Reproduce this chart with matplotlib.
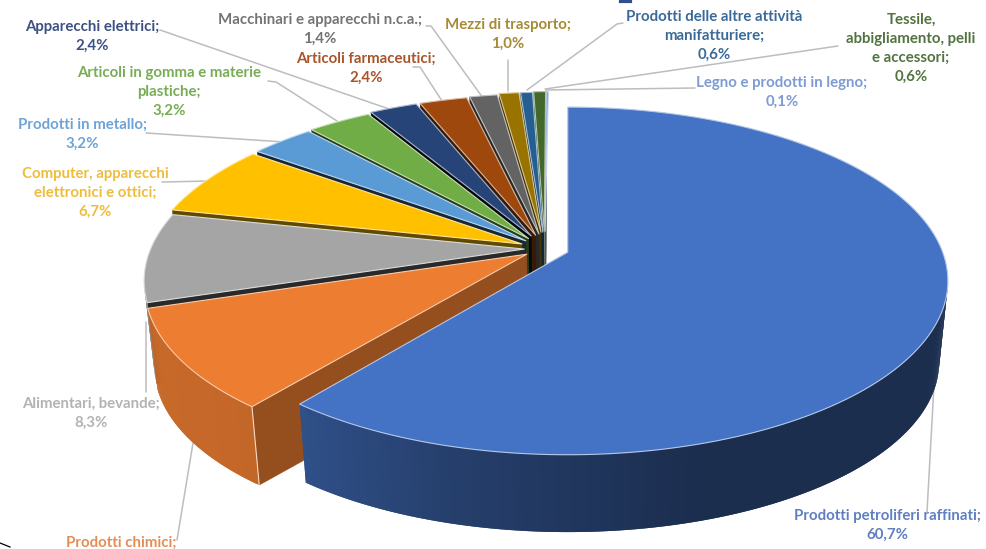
import numpy as np
import matplotlib
matplotlib.use("Agg")
import matplotlib.pyplot as plt
from matplotlib.colors import to_rgb
from matplotlib.patches import Polygon

plt.rcParams['font.family'] = ['Lato', 'DejaVu Sans']

# Shares of each sector, clockwise from twelve o'clock
sectors = ["Prodotti petroliferi raffinati", "Prodotti chimici", "Alimentari, bevande",
           "Computer, apparecchi elettronici e ottici", "Prodotti in metallo",
           "Articoli in gomma e materie plastiche", "Apparecchi elettrici",
           "Articoli farmaceutici", "Macchinari e apparecchi n.c.a.", "Mezzi di trasporto",
           "Prodotti delle altre attività manifatturiere",
           "Tessile, abbigliamento, pelli e accessori", "Legno e prodotti in legno"]
shares = [60.7, 9.4, 8.3, 6.7, 3.2, 3.2, 2.4, 2.4, 1.4, 1.0, 0.6, 0.6, 0.1]
slice_colors = ["#4472c4", "#ed7d31", "#a5a5a5", "#ffc000", "#5b9bd5", "#70ad47", "#264478",
                "#9e480e", "#636363", "#997300", "#255e91", "#43682b", "#698ed0"]
side_factors = [.40, .63, .25, .38, .25, .35, .10, .35, .40, .45, .40, .40, .45]
explosions = [.065, .058, .055, .068, .070, .075, .085, .085, .090, .100, .100, .105, .105]
label_colors = ["#5f7fc2", "#e58d56", "#b3b3b3", "#eebd3f", "#6ea3d8", "#78ad55", "#3c5183",
                "#a9552a", "#747474", "#a68a35", "#3b6a98", "#52733f", "#7f9bd2"]

# Perspective model of the pie disc, in pixel units
CX, CY, A, B, K = 568.0, 252.0, 374.8, 169.0, 0.165
WALL, SHRINK = 82.0, 0.023
HUB = np.array([-0.062, 0.020])


def project(u, v, depth=0.0):
    w = 1 + K * v
    s = 1 - SHRINK * depth
    return CX + s * A * u / w, CY + WALL * depth - s * B * v / w


def direction(theta):
    return np.array([np.sin(theta), np.cos(theta)])


def shade(color, factor):
    return tuple(np.array(to_rgb(color)) * factor)


def tint(color, amount):
    c = np.array(to_rgb(color))
    return tuple(c + (1 - c) * amount)


fig = plt.figure(figsize=(9.87, 5.49), dpi=100)
ax = fig.add_axes([0, 0, 1, 1])
ax.set_xlim(0, 987)
ax.set_ylim(549, 0)
ax.axis("off")

edges = np.radians(np.concatenate([[0], np.cumsum(shares)]) * 360 / np.sum(shares))
wedges = []
for i, color in enumerate(slice_colors):
    t0, t1 = edges[i], edges[i + 1]
    apex = HUB + explosions[i] * direction((t0 + t1) / 2)
    wedges.append((i, color, t0, t1, apex))

# Far slices first, the large slice last so it sits over the others' side walls
for i, color, t0, t1, apex in list(reversed(wedges[1:])) + wedges[:1]:
    angles = np.linspace(t0, t1, max(6, int(np.degrees(t1 - t0) * 2)))
    ru = apex[0] + np.sin(angles)
    rv = apex[1] + np.cos(angles)

    # Cut face along the slice's leading radius
    if i != 0:
        x0, y0 = project(apex[0], apex[1])
        x1, y1 = project(ru[0], rv[0])
        x2, y2 = project(ru[0], rv[0], 1)
        x3, y3 = project(apex[0], apex[1], 1)
        ax.add_patch(Polygon([(x0, y0), (x1, y1), (x2, y2), (x3, y3)], closed=True,
                             fc=shade(color, side_factors[i]),
                             ec=shade(color, side_factors[i]), lw=0.3, zorder=2))

    # Outer rim, lit from the left and falling into shadow towards the right.
    # Each strip overlaps the next one so no seams show between them.
    for j in range(len(angles) - 1):
        if np.cos(angles[j]) > -K and np.cos(angles[j + 1]) > -K:
            continue
        j2 = min(j + 2, len(angles) - 1)
        xa, ya = project(ru[j], rv[j])
        xb, yb = project(ru[j2], rv[j2])
        xc, yc = project(ru[j2], rv[j2], 1)
        xd, yd = project(ru[j], rv[j], 1)
        f = np.interp((xa + xb) / 2, [150, 262, 305, 450, 700], [.84, .82, .69, .55, .40])
        ax.add_patch(Polygon([(xa, ya), (xb, yb), (xc, yc), (xd, yd)], closed=True,
                             fc=shade(color, f), ec="none", zorder=2))

    # Seam at the front corner of the cut face
    if i == 1:
        x1, y1 = project(ru[0], rv[0])
        x2, y2 = project(ru[0], rv[0], 1)
        ax.plot([x1, x2], [y1, y2], color=tint(color, .7), lw=0.8, zorder=2)

    # Top face
    xs, ys = project(np.concatenate([[apex[0]], ru]), np.concatenate([[apex[1]], rv]))
    ax.add_patch(Polygon(np.column_stack([xs, ys]), closed=True, fc=color,
                         ec=tint(color, .6), lw=0.8, joinstyle="round", zorder=2))

# Leader lines: label anchor to the rim of each slice
leaders = {
    0: [(927, 512), (934, 385)],
    1: [(177, 540), (193, 443)],
    2: [(146, 392), (146, 322)],
    3: [(162, 182), (210, 181)],
    4: [(146, 133), (285, 142)],
    5: [(268, 81), (276, 82), (337, 121)],
    6: [(160, 30), (392, 110)],
    7: [(413, 67), (420, 67), (442, 101)],
    8: [(426, 26), (431, 26), (483, 98)],
    9: [(508, 60), (508, 91)],
    10: [(623, 23), (617, 24), (527, 90)],
    11: [(838, 46), (545, 89)],
    12: [(695, 88), (546, 90), (546, 94)],
}
for pts in leaders.values():
    px, py = zip(*pts)
    ax.plot(px, py, color="#bdbdbd", lw=1.1, zorder=1, solid_capstyle="round")

# Data labels, Italian decimal comma as printed
label_layout = {
    0: (887, 516, "Prodotti petroliferi raffinati;"),
    1: (121, 543, "Prodotti chimici;"),
    2: (91, 404, "Alimentari, bevande;"),
    3: (95, 174, "Computer, apparecchi\nelettronici e ottici;"),
    4: (82, 125, "Prodotti in metallo;"),
    5: (169, 73, "Articoli in gomma e materie\nplastiche;"),
    6: (92, 27, "Apparecchi elettrici;"),
    7: (366, 59, "Articoli farmaceutici;"),
    8: (320, 20, "Macchinari e apparecchi n.c.a.;"),
    9: (508, 25, "Mezzi di trasporto;"),
    10: (714, 17, "Prodotti delle altre attività\nmanifatturiere;"),
    11: (911, 20, "Tessile,\nabbigliamento, pelli\ne accessori;"),
    12: (782, 83, "Legno e prodotti in legno;"),
}
LINE_STEP = 18.8
for i, (x, y, name) in label_layout.items():
    lines = name.split("\n")
    if i != 1:
        lines.append(f"{shares[i]:.1f}%".replace(".", ","))
    for n, line in enumerate(lines):
        ax.text(x, y + n * LINE_STEP, line, ha="center", va="center", fontsize=10.8,
                fontweight="bold", color=label_colors[i], zorder=4)

# Stray marks along the frame edges
ax.plot([621, 630], [1, 1], color="#2f4f8f", lw=3, zorder=1)
ax.plot([0, 5, 10], [543, 545, 547], color="black", lw=0.9, zorder=1)

fig.savefig("out.png", dpi=100)
